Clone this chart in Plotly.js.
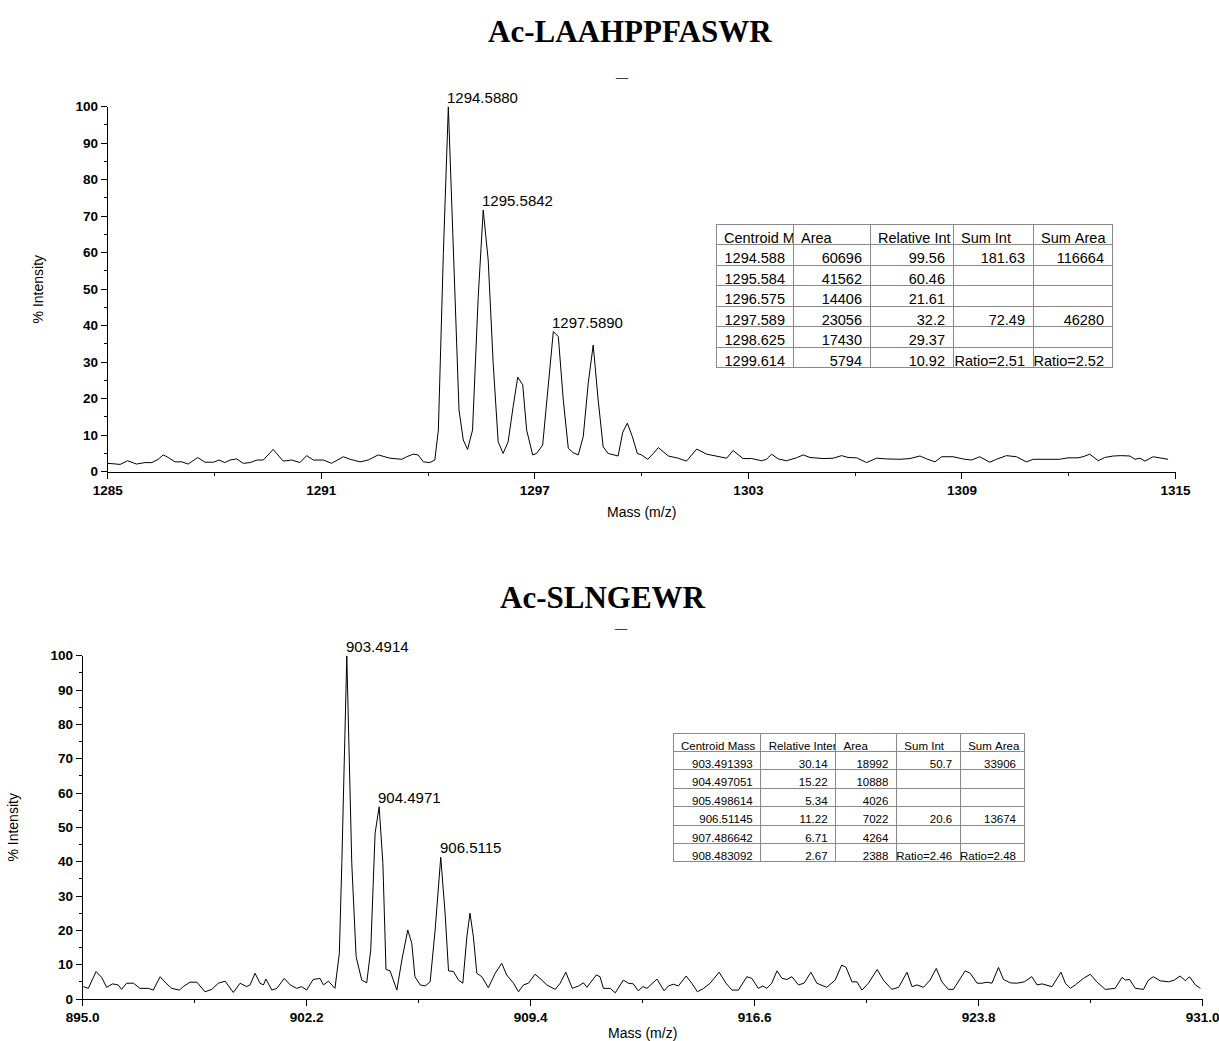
<!DOCTYPE html>
<html>
<head>
<meta charset="utf-8">
<script src="https://cdn.plot.ly/plotly-3.0.1.min.js"></script>
<style>
  html, body { margin: 0; padding: 0; background: #ffffff; }
  #chart { width: 1219px; height: 1041px; }
</style>
</head>
<body>
<div id="chart"></div>
<script>
// ---------- Top spectrum: Ac-LAAHPPFASWR ----------
const topTitle = "Ac-LAAHPPFASWR";
const topMz = [1285.00,1285.35,1285.56,1285.81,1286.05,1286.24,1286.42,1286.56,1286.70,1286.89,
  1287.08,1287.26,1287.53,1287.73,1287.97,1288.13,1288.29,1288.44,1288.62,1288.81,
  1289.00,1289.19,1289.37,1289.65,1289.93,1290.17,1290.40,1290.59,1290.78,1291.06,
  1291.29,1291.62,1291.81,1292.09,1292.32,1292.60,1292.93,1293.26,1293.40,1293.58,
  1293.72,1293.87,1294.05,1294.19,1294.29,1294.43,1294.57,1294.71,1294.87,1294.99,
  1295.11,1295.25,1295.41,1295.55,1295.69,1295.83,1295.97,1296.11,1296.25,1296.39,
  1296.52,1296.66,1296.77,1296.94,1297.05,1297.22,1297.38,1297.52,1297.66,1297.80,
  1297.94,1298.08,1298.22,1298.36,1298.50,1298.64,1298.78,1298.92,1299.06,1299.20,
  1299.34,1299.47,1299.60,1299.74,1299.88,1300.00,1300.17,1300.33,1300.47,1300.75,
  1301.03,1301.26,1301.55,1301.83,1302.11,1302.39,1302.57,1302.71,1302.85,1303.09,
  1303.37,1303.51,1303.65,1303.84,1304.07,1304.35,1304.54,1304.73,1305.10,1305.38,
  1305.62,1305.80,1306.04,1306.32,1306.60,1306.88,1307.26,1307.54,1307.82,1308.01,
  1308.24,1308.43,1308.75,1309.08,1309.27,1309.50,1309.78,1309.97,1310.25,1310.53,
  1310.81,1311.00,1311.28,1311.74,1311.98,1312.26,1312.40,1312.59,1312.83,1313.01,
  1313.25,1313.48,1313.72,1313.86,1314.00,1314.14,1314.37,1314.56,1314.79];
const topInt = [2.3,2.0,3.0,2.1,2.5,2.5,3.4,4.6,3.9,2.7,
  2.7,2.1,3.9,2.6,2.6,3.2,2.5,3.2,3.5,2.3,
  2.5,3.2,3.2,6.1,2.9,3.2,2.5,4.4,3.2,3.2,
  2.3,4.1,3.4,2.7,3.2,4.6,3.7,3.4,4.1,4.8,
  4.6,2.7,2.5,3.2,11.4,59.8,100,63.5,16.9,8.7,
  6.1,11.4,48.0,71.7,58.0,29.7,8.2,5.0,8.2,17.8,
  25.9,23.8,11.4,4.6,5.0,7.3,25.1,38.4,37.0,19.6,
  6.4,5.2,4.6,9.6,24.2,34.7,19.6,6.8,5.0,4.6,
  4.3,10.8,13.3,9.6,5.0,4.6,3.4,5.0,6.6,4.3,
  3.7,2.9,6.2,4.8,4.3,3.7,5.8,4.8,3.6,3.6,
  3.0,3.4,4.8,3.5,3.0,3.8,4.6,3.9,3.6,3.7,
  4.4,3.9,3.8,2.5,3.7,3.5,3.4,3.6,4.3,3.5,
  2.7,4.1,4.1,3.4,3.2,4.1,2.6,3.4,4.4,4.1,
  2.7,3.4,3.4,3.4,3.8,3.8,4.1,4.8,3.0,3.9,
  4.3,4.4,4.3,3.4,3.7,2.9,4.1,3.7,3.4];
const topPeakMz = [1294.57, 1295.55, 1297.52];
const topPeakInt = [100, 71.7, 38.4];
const topPeakLabels = ["1294.5880", "1295.5842", "1297.5890"];
const topXTicks = [1285, 1291, 1297, 1303, 1309, 1315];
const topXMinor = 3;

const topTableHeader = ["Centroid M", "Area", "Relative Int", "Sum Int", "Sum Area"];
const topTableMass = ["1294.588", "1295.584", "1296.575", "1297.589", "1298.625", "1299.614"];
const topTableArea = ["60696", "41562", "14406", "23056", "17430", "5794"];
const topTableRelInt = ["99.56", "60.46", "21.61", "32.2", "29.37", "10.92"];
const topTableSumInt = ["181.63", "", "", "72.49", "", "Ratio=2.51"];
const topTableSumArea = ["116664", "", "", "46280", "", "Ratio=2.52"];

// ---------- Bottom spectrum: Ac-SLNGEWR ----------
const botTitle = "Ac-SLNGEWR";
const botMz = [895.02,895.18,895.43,895.61,895.77,895.96,896.14,896.25,896.41,896.63,
  896.84,897.11,897.27,897.49,897.68,897.86,898.11,898.23,898.45,898.67,
  898.93,899.15,899.36,899.58,899.84,900.06,900.27,900.38,900.54,900.70,
  900.81,900.89,901.08,901.24,901.48,901.67,901.88,902.04,902.20,902.41,
  902.63,902.74,902.90,903.11,903.25,903.33,903.49,903.65,903.79,903.97,
  904.13,904.26,904.40,904.53,904.65,904.75,904.88,905.10,905.26,905.45,
  905.58,905.68,905.85,906.01,906.17,906.33,906.51,906.65,906.76,906.92,
  907.08,907.22,907.35,907.45,907.56,907.67,907.83,908.04,908.26,908.47,
  908.63,908.85,909.01,909.17,909.33,909.54,909.70,909.92,910.19,910.35,
  910.53,910.74,910.94,911.10,911.21,911.51,911.63,911.74,911.96,912.12,
  912.38,912.54,912.70,912.86,913.01,913.14,913.46,913.69,913.83,913.99,
  914.15,914.40,914.58,914.76,914.96,915.17,915.46,915.68,915.87,916.08,
  916.35,916.51,916.72,916.86,916.99,917.15,917.32,917.48,917.64,917.80,
  918.01,918.19,918.41,918.60,918.92,919.19,919.40,919.54,919.73,919.89,
  920.05,920.26,920.54,920.74,921.01,921.23,921.50,921.66,921.82,922.03,
  922.24,922.44,922.62,922.83,922.99,923.15,923.37,923.53,923.75,923.91,
  924.07,924.23,924.44,924.60,924.82,925.03,925.27,925.51,925.68,925.84,
  926.00,926.16,926.45,926.59,926.75,926.91,927.17,927.39,927.60,927.87,
  928.19,928.41,928.52,928.65,928.84,929.10,929.26,929.42,929.64,929.91,
  930.09,930.28,930.45,930.58,930.77,930.93];
const botInt = [3.6,3.1,8.0,6.3,3.4,4.4,4.1,2.8,4.6,4.6,
  3.1,3.1,2.6,6.5,4.6,3.1,2.6,3.6,4.9,4.9,
  2.1,2.8,4.6,5.2,1.9,4.6,3.6,4.1,7.5,4.6,
  4.1,5.8,2.6,3.1,6.0,4.1,3.1,3.6,2.6,5.7,
  6.0,4.1,5.2,3.1,13.3,39.5,100,39.5,12.3,5.5,
  4.7,14.3,48.3,56.0,39.5,8.6,8.2,2.6,11.4,20.1,
  16.2,6.5,4.1,3.8,5.0,20.1,41.3,25.0,8.2,8.0,
  5.5,4.6,18.1,25.0,18.1,7.5,6.5,3.3,7.5,10.4,
  7.0,4.6,2.1,4.1,4.6,7.2,6.0,4.1,2.8,4.6,
  7.8,3.1,3.8,4.7,3.4,7.0,6.5,3.1,3.1,1.8,
  5.5,4.6,4.4,2.4,3.6,3.1,5.8,2.4,3.8,4.3,
  3.8,6.7,4.6,2.1,3.1,4.6,7.8,4.6,2.6,2.6,
  6.5,6.0,3.1,3.8,3.1,4.6,8.2,6.0,5.7,6.5,
  4.1,4.6,7.8,4.6,3.4,5.5,9.9,9.2,5.0,5.0,
  2.6,4.6,8.6,5.5,2.8,3.4,7.8,3.6,4.1,3.4,
  5.5,8.9,5.0,2.8,2.8,5.0,8.2,7.5,4.6,4.6,
  4.9,4.6,9.2,5.7,4.7,4.6,5.0,6.5,4.1,4.4,
  4.1,3.6,7.8,4.6,3.1,4.1,6.0,7.2,5.0,2.8,
  3.1,6.3,5.5,5.7,3.1,2.8,5.5,6.5,5.3,5.0,
  5.5,6.7,5.3,6.5,4.1,3.1];
const botPeakMz = [903.49, 904.53, 906.51];
const botPeakInt = [100, 56.0, 41.3];
const botPeakLabels = ["903.4914", "904.4971", "906.5115"];
const botXTicks = [895.0, 902.2, 909.4, 916.6, 923.8, 931.0];
const botXMinor = 3.6;

const botTableHeader = ["Centroid Mass", "Relative Inter", "Area", "Sum Int", "Sum Area"];
const botTableMass = ["903.491393", "904.497051", "905.498614", "906.51145", "907.486642", "908.483092"];
const botTableRelInt = ["30.14", "15.22", "5.34", "11.22", "6.71", "2.67"];
const botTableArea = ["18992", "10888", "4026", "7022", "4264", "2388"];
const botTableSumInt = ["50.7", "", "", "20.6", "", "Ratio=2.46"];
const botTableSumArea = ["33906", "", "", "13674", "", "Ratio=2.48"];

const yTitle = "% Intensity";
const xTitle = "Mass (m/z)";

// ---------- Build figure ----------
const sans = "Liberation Sans, Arial, sans-serif";
const serif = "Liberation Serif, Times New Roman, serif";
const W = 1219, H = 1041;
const px = (a) => a / W;
const py = (b) => 1 - b / H;
const nb = (arr) => arr.map(s => String(s).replace(/ /g, "\u00a0"));

const traces = [
  { type: "scatter", mode: "lines", x: topMz, y: topInt, xaxis: "x", yaxis: "y",
    line: { color: "#000", width: 1 }, hoverinfo: "skip" },
  { type: "scatter", mode: "lines", x: botMz, y: botInt, xaxis: "x2", yaxis: "y2",
    line: { color: "#000", width: 1 }, hoverinfo: "skip" },
  { type: "table",
    domain: { x: [px(716), px(1112)], y: [py(369), py(224)] },
    columnwidth: [77, 77, 83, 80, 79],
    header: { values: nb(topTableHeader), align: "left", height: 20.5,
      font: { family: sans, size: 14.5, color: "#000" },
      fill: { color: "#fff" }, line: { color: "#8a8a8a", width: 1 } },
    cells: { values: [topTableMass, topTableArea, topTableRelInt, topTableSumInt, topTableSumArea],
      align: "right", height: 20.5,
      font: { family: sans, size: 14.5, color: "#000" },
      fill: { color: "#fff" }, line: { color: "#8a8a8a", width: 1 } } },
  { type: "table",
    domain: { x: [px(673), px(1025)], y: [py(863), py(733)] },
    columnwidth: [88, 75, 61, 64, 64],
    header: { values: nb(botTableHeader), align: "left", height: 18.4,
      font: { family: sans, size: 11.5, color: "#000" },
      fill: { color: "#fff" }, line: { color: "#8a8a8a", width: 1 } },
    cells: { values: [botTableMass, botTableRelInt, botTableArea, botTableSumInt, botTableSumArea],
      align: "right", height: 18.4,
      font: { family: sans, size: 11.5, color: "#000" },
      fill: { color: "#fff" }, line: { color: "#8a8a8a", width: 1 } } }
];

const tickFont = { family: sans, size: 13.5, color: "#000", weight: "bold" };
const titleFont = { family: sans, size: 14, color: "#000" };

function yAx(domain, anchor) {
  return {
    domain: domain, range: [0, 100], tick0: 0, dtick: 10, anchor: anchor,
    showline: true, linecolor: "#000", linewidth: 1,
    ticks: "outside", ticklen: 6, tickwidth: 1, tickcolor: "#000",
    minor: { dtick: 5, tick0: 0, ticks: "outside", ticklen: 3, tickcolor: "#000", showgrid: false },
    showgrid: false, zeroline: false, tickfont: tickFont,
    title: { text: yTitle, font: titleFont, standoff: 28 }
  };
}
function xAx(domain, ticks, minor, fmt, anchor) {
  const lo = ticks[0], hi = ticks[ticks.length - 1];
  return {
    domain: domain, range: [lo, hi + 0.005], tickmode: "array", tickvals: ticks,
    ticktext: ticks.map(v => v.toFixed(fmt)),
    ticklabeloverflow: "allow",
    anchor: anchor,
    showline: true, linecolor: "#000", linewidth: 1,
    ticks: "outside", ticklen: 6, tickwidth: 1, tickcolor: "#000",
    minor: { tick0: lo, dtick: minor, ticks: "outside", ticklen: 3, tickcolor: "#000", showgrid: false },
    showgrid: false, zeroline: false, tickfont: tickFont,
    title: { text: xTitle, font: titleFont, standoff: 10 }
  };
}

const annotations = [];
topPeakMz.forEach((m, i) => annotations.push({
  x: m, y: topPeakInt[i], xref: "x", yref: "y", text: topPeakLabels[i],
  showarrow: false, xanchor: "left", yanchor: "bottom", xshift: -3, yshift: -1,
  font: { family: sans, size: 15, color: "#000" }
}));
botPeakMz.forEach((m, i) => annotations.push({
  x: m, y: botPeakInt[i], xref: "x2", yref: "y2", text: botPeakLabels[i],
  showarrow: false, xanchor: "left", yanchor: "bottom", xshift: -3, yshift: -1,
  font: { family: sans, size: 15, color: "#000" }
}));
annotations.push(
  { x: px(630), y: py(31), xref: "paper", yref: "paper", text: "<b>" + topTitle + "</b>",
    showarrow: false, xanchor: "center", yanchor: "middle",
    font: { family: serif, size: 31, color: "#000" } },
  { x: px(603), y: py(597), xref: "paper", yref: "paper", text: "<b>" + botTitle + "</b>",
    showarrow: false, xanchor: "center", yanchor: "middle",
    font: { family: serif, size: 31, color: "#000" } },
  { x: px(622), y: py(73), xref: "paper", yref: "paper", text: "__",
    showarrow: false, xanchor: "center", yanchor: "middle",
    font: { family: sans, size: 11, color: "#000" } },
  { x: px(621), y: py(624), xref: "paper", yref: "paper", text: "__",
    showarrow: false, xanchor: "center", yanchor: "middle",
    font: { family: sans, size: 11, color: "#000" } }
);

const layout = {
  width: W, height: H,
  margin: { l: 0, r: 0, t: 0, b: 0 },
  paper_bgcolor: "#fff", plot_bgcolor: "#fff",
  showlegend: false,
  font: { family: sans, color: "#000" },
  xaxis: xAx([px(107.7), px(1175.7)], topXTicks, topXMinor, 0, "y"),
  yaxis: yAx([py(471.7), py(106.7)], "x"),
  xaxis2: xAx([px(82.7), px(1202.7)], botXTicks, botXMinor, 1, "y2"),
  yaxis2: yAx([py(999), py(655.7)], "x2"),
  annotations: annotations
};

Plotly.newPlot("chart", traces, layout, { displayModeBar: false, staticPlot: true });
</script>
</body>
</html>
